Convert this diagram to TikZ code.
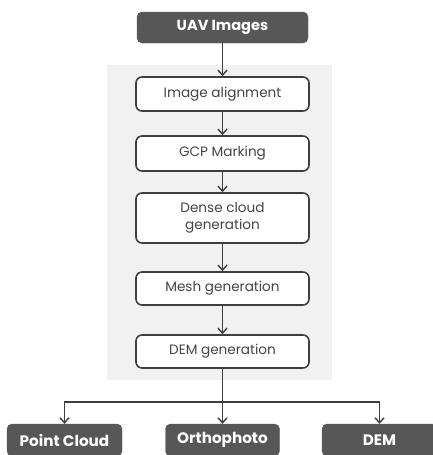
\documentclass[tikz,border=0pt]{standalone}
\usepackage{fontspec}
\setmainfont{Poppins}
\usetikzlibrary{arrows.meta}
\definecolor{darkbox}{HTML}{575757}
\definecolor{linegray}{HTML}{3E3E3E}
\definecolor{panelgray}{HTML}{F1F1F1}
\definecolor{txtgray}{HTML}{454545}
\tikzset{
  stepbox/.style={draw=linegray, line width=1.6pt, fill=white, rounded corners=6pt,
    minimum width=173pt, inner sep=2pt, align=center, text=txtgray,
    font=\fontsize{13.6}{16}\selectfont},
  darkbox/.style={draw=darkbox, fill=darkbox, rounded corners=5pt, text=white,
    minimum height=32pt, inner sep=2pt, font=\fontsize{15.2}{17}\selectfont\bfseries},
  conn/.style={draw=linegray, line width=1.6pt, -{Straight Barb[length=5pt,width=9pt,line width=1.4pt]}},
  plainconn/.style={draw=linegray, line width=1.6pt}
}
\begin{document}
\begin{tikzpicture}[x=1pt,y=-1pt]
\useasboundingbox (0,0) rectangle (433,455);
\clip (0,0) rectangle (433,455);
\fill[panelgray] (107,65) rectangle (332,380);
\node[darkbox, minimum width=171pt, minimum height=31pt, font=\fontsize{14.6}{17}\selectfont\bfseries] (uav) at (222.5,27.5) {UAV Images};
\node[stepbox, minimum height=34pt] (align) at (222.5,94) {Image alignment};
\node[stepbox, minimum height=35pt] (gcp) at (222.5,153.5) {GCP Marking};
\node[stepbox, minimum height=50pt, font=\fontsize{13.6}{17}\selectfont] (dense) at (222.5,218) {Dense cloud\\generation};
\node[stepbox, minimum height=33pt] (mesh) at (222.5,288.5) {Mesh generation};
\node[stepbox, minimum height=33pt] (demgen) at (222.5,351.5) {DEM generation};
\node[darkbox, minimum width=115pt] (pc) at (64.5,440) {Point Cloud};
\node[darkbox, minimum width=114pt] (ortho) at (222.5,440) {Orthophoto};
\node[darkbox, minimum width=115pt] (dem) at (379.5,440) {DEM};
\draw[conn] (uav) -- (align);
\draw[conn] (align) -- (gcp);
\draw[conn] (gcp) -- (dense);
\draw[conn] (dense) -- (mesh);
\draw[conn] (mesh) -- (demgen);
\coordinate (j) at (222.5,402);
\draw[conn] (demgen) -- (ortho);
\draw[conn] (j) -| (pc.north);
\draw[conn] (j) -| (dem.north);
\end{tikzpicture}
\end{document}
